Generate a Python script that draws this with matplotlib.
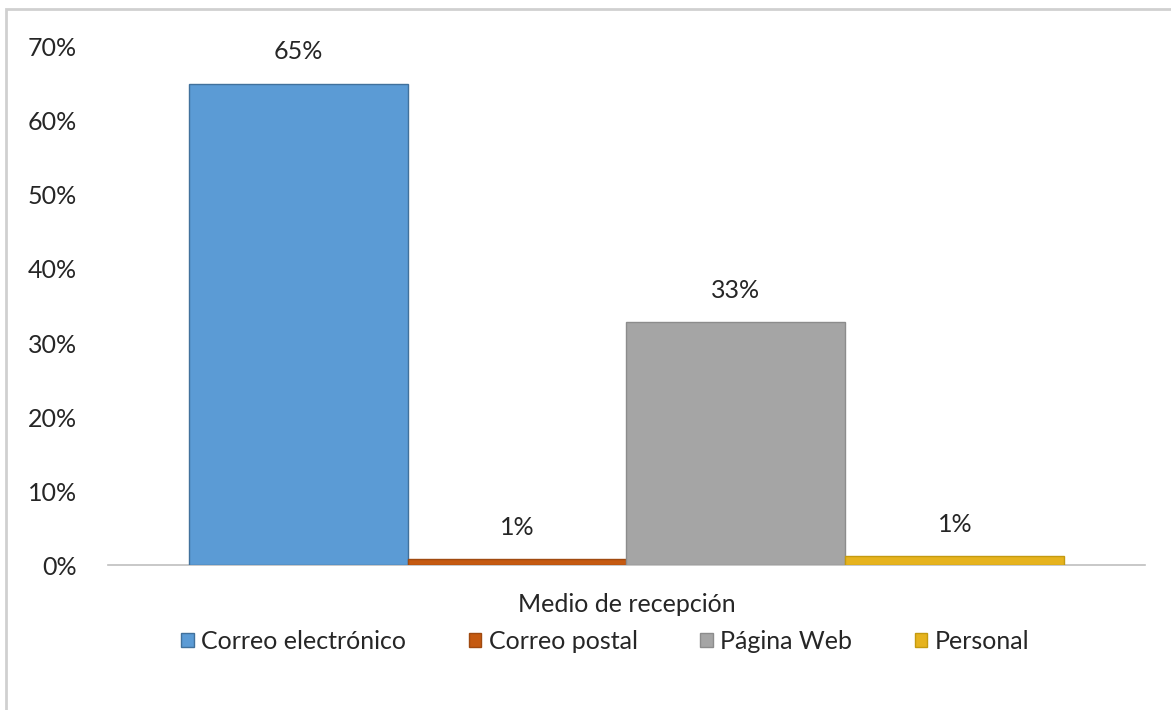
import numpy as np
import matplotlib.pyplot as plt
from matplotlib.patches import Rectangle

plt.rcParams['font.family'] = ['Lato', 'DejaVu Sans']

# data
categories = ["Correo electrónico", "Correo postal", "Página Web", "Personal"]
values = [0.65, 0.008, 0.328, 0.012]
colors = ["#5B9BD5", "#C55A11", "#A5A5A5", "#E6B31E"]
edges = ["#41719C", "#A04A10", "#8C8C8C", "#C49A10"]
yticks = [0, 0.1, 0.2, 0.3, 0.4, 0.5, 0.6, 0.7]

FS = 18
TXT = "#262626"

fig = plt.figure(figsize=(11.71, 7.10), dpi=100)
ax = fig.add_axes([0.092, 0.204, 0.886, 0.730])

x = np.arange(len(categories))
bars = ax.bar(x, values, width=1.0, color=colors, edgecolor=edges,
              linewidth=1, label=categories, zorder=2)

for b, v in zip(bars, values):
    ax.annotate(f"{v*100:.0f}%", (b.get_x() + b.get_width() / 2, v),
                xytext=(0, 23), textcoords="offset points",
                ha="center", va="center", fontsize=FS, color=TXT)

ax.set_xlim(-0.5 - 0.37, len(categories) - 0.5 + 0.37)
ax.set_ylim(0, 0.70)
ax.set_yticks(yticks)
ax.set_yticklabels([f"{t*100:.0f}%" for t in yticks])
ax.tick_params(axis="y", length=0, labelsize=FS, labelcolor=TXT, pad=22)
ax.set_xticks([])
for s in ["top", "right", "left"]:
    ax.spines[s].set_visible(False)
ax.spines["bottom"].set_color("#BFBFBF")
ax.spines["bottom"].set_linewidth(1.2)
ax.spines["bottom"].set_zorder(1)

ax.set_xlabel("Medio de recepción", fontsize=FS, color=TXT, labelpad=20)

fig.legend(handles=bars, labels=categories, loc="center", ncol=4,
           bbox_to_anchor=(0.517, 0.097), frameon=False, fontsize=FS,
           handlelength=0.5, handleheight=0.5, handletextpad=0.3,
           columnspacing=2.5, labelcolor=TXT)

# outer chart frame
fig.patches.append(Rectangle((6 / 1171, -0.01), 1.02, 1 - 9 / 710 + 0.01,
                             transform=fig.transFigure, fill=False,
                             edgecolor="#D0D0D0", linewidth=2))

plt.savefig("out.png", dpi=100)
